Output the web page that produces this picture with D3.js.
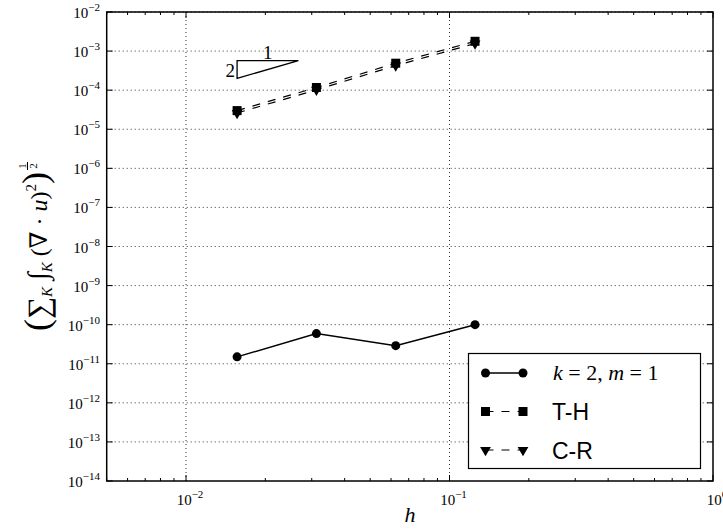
<!DOCTYPE html>
<html>
<head>
<meta charset="utf-8">
<script src="https://cdn.jsdelivr.net/npm/d3@7"></script>
<style>
  body { margin: 0; background: #fff; }
  svg { display: block; }
</style>
</head>
<body>
<div id="chart"></div>
<script>
// mesh size h and error values
var h_values = [0.015625, 0.03125, 0.0625, 0.125];
var err_km   = [1.5e-11, 5.9e-11, 2.9e-11, 1.0e-10];
var err_th   = [3.0e-5, 1.17e-4, 4.9e-4, 1.78e-3];
var err_cr   = [2.6e-5, 1.02e-4, 4.25e-4, 1.56e-3];
var series_names = ['k = 2, m = 1', 'T-H', 'C-R'];
var x_major = [0.01, 0.1, 1];
var y_major = d3.range(-14, -1);
// slope triangle corners (data coords)
var tri_x = [0.015625, 0.0267];
var tri_y = [5.7e-4, 2.0e-4];

var W = 723, H = 529;
var pl = 106.7, pr = 713, pt = 12, pb = 481;

var svg = d3.select('#chart').append('svg').attr('width', W).attr('height', H);

var x = d3.scaleLog().domain([0.005, 1]).range([pl, pr]);
var y = d3.scaleLog().domain([1e-14, 1e-2]).range([pb, pt]);

var serif = 'Liberation Serif, DejaVu Serif, serif';
var sans = 'Liberation Sans, Arial, sans-serif';
var dash = '8,8';

// grid
svg.append('g').selectAll('line')
    .data(x_major.slice(0, 2))
    .enter().append('line')
    .attr('x1', function(d){ return x(d); }).attr('x2', function(d){ return x(d); })
    .attr('y1', pt).attr('y2', pb)
    .attr('stroke', '#000').attr('stroke-width', 0.8).attr('stroke-dasharray', '1,3');

svg.append('g').selectAll('line')
    .data(y_major.slice(1, y_major.length))
    .enter().append('line')
    .attr('x1', pl).attr('x2', pr)
    .attr('y1', function(e){ return y(Math.pow(10, e)); })
    .attr('y2', function(e){ return y(Math.pow(10, e)); })
    .attr('stroke', '#000').attr('stroke-width', 0.8).attr('stroke-dasharray', '1,3');

// ticks (inward, both sides)
var x_minor = [];
[0.001, 0.01, 0.1].forEach(function(b){
    for (var i = 2; i <= 9; i++) {
        var v = b * i;
        if (v > 0.0049 && v < 1) x_minor.push(v);
    }
});

var ticks = svg.append('g').attr('stroke', '#000').attr('stroke-width', 1);
x_minor.forEach(function(v){
    ticks.append('line').attr('x1', x(v)).attr('x2', x(v)).attr('y1', pb).attr('y2', pb - 3);
    ticks.append('line').attr('x1', x(v)).attr('x2', x(v)).attr('y1', pt).attr('y2', pt + 3);
});
x_major.forEach(function(v){
    ticks.append('line').attr('x1', x(v)).attr('x2', x(v)).attr('y1', pb).attr('y2', pb - 6);
    ticks.append('line').attr('x1', x(v)).attr('x2', x(v)).attr('y1', pt).attr('y2', pt + 6);
});
y_major.forEach(function(e){
    var yy = y(Math.pow(10, e));
    ticks.append('line').attr('x1', pl).attr('x2', pl + 6).attr('y1', yy).attr('y2', yy);
    ticks.append('line').attr('x1', pr).attr('x2', pr - 6).attr('y1', yy).attr('y2', yy);
});

// tick labels
function power_label(g, px, py, exp, anchor)
{
    var t = g.append('text')
        .attr('x', px).attr('y', py)
        .attr('text-anchor', anchor)
        .attr('font-family', serif)
        .attr('font-size', '15px');
    t.append('tspan').text('10');
    t.append('tspan').attr('dy', -7).attr('font-size', '11px').text(exp < 0 ? '\u2212' + (-exp) : String(exp));
    return t;
}

var labels = svg.append('g');
y_major.forEach(function(e){
    power_label(labels, 100, y(Math.pow(10, e)) + 6, e, 'end');
});
x_major.forEach(function(v){
    var e = Math.round(Math.log10(v));
    power_label(labels, x(v) + 4, 505, e, 'middle');
});

// data lines
var line = d3.line()
    .x(function(d){ return x(d[0]); })
    .y(function(d){ return y(d[1]); });

function pairs(vals){ return h_values.map(function(hv, i){ return [hv, vals[i]]; }); }

svg.append('path').datum(pairs(err_th)).attr('d', line)
    .attr('fill', 'none').attr('stroke', '#000').attr('stroke-width', 1.2).attr('stroke-dasharray', dash);
svg.append('path').datum(pairs(err_cr)).attr('d', line)
    .attr('fill', 'none').attr('stroke', '#000').attr('stroke-width', 1.2).attr('stroke-dasharray', dash);
svg.append('path').datum(pairs(err_km)).attr('d', line)
    .attr('fill', 'none').attr('stroke', '#000').attr('stroke-width', 1.5);

var tri = d3.symbol().type(d3.symbolTriangle).size(50);

svg.append('g').selectAll('path')
    .data(pairs(err_cr)).enter().append('path')
    .attr('d', tri)
    .attr('transform', function(d){ return 'translate(' + x(d[0]) + ',' + y(d[1]) + ') rotate(180)'; })
    .attr('fill', '#000');

svg.append('g').selectAll('rect')
    .data(pairs(err_th)).enter().append('rect')
    .attr('x', function(d){ return x(d[0]) - 4.5; })
    .attr('y', function(d){ return y(d[1]) - 4.5; })
    .attr('width', 9).attr('height', 9)
    .attr('fill', '#000');

svg.append('g').selectAll('circle')
    .data(pairs(err_km)).enter().append('circle')
    .attr('cx', function(d){ return x(d[0]); })
    .attr('cy', function(d){ return y(d[1]); })
    .attr('r', 4.5)
    .attr('fill', '#000');

// slope triangle
svg.append('path')
    .attr('d', 'M' + x(tri_x[0]) + ',' + y(tri_y[0]) +
               'L' + x(tri_x[1]) + ',' + y(tri_y[0]) +
               'L' + x(tri_x[0]) + ',' + y(tri_y[1]) + 'Z')
    .attr('fill', 'none').attr('stroke', '#000').attr('stroke-width', 1.3);
svg.append('text').attr('x', x(tri_x[0]) - 2).attr('y', (y(tri_y[0]) + y(tri_y[1])) / 2 + 7)
    .attr('text-anchor', 'end').attr('font-family', serif).attr('font-size', '19px').text('2');
svg.append('text').attr('x', (x(tri_x[0]) + x(tri_x[1])) / 2).attr('y', y(tri_y[0]) - 2)
    .attr('text-anchor', 'middle').attr('font-family', serif).attr('font-size', '19px').text('1');

// frame
svg.append('rect').attr('x', pl).attr('y', pt)
    .attr('width', pr - pl).attr('height', pb - pt)
    .attr('fill', 'none').attr('stroke', '#000').attr('stroke-width', 1.5);

// legend
var leg = svg.append('g');
leg.append('rect').attr('x', 468.5).attr('y', 353.5).attr('width', 232).attr('height', 115)
    .attr('fill', '#fff').attr('stroke', '#000').attr('stroke-width', 1.2);

var rows = [373, 411.5, 450];
var lx1 = 485.5, lx2 = 523;

leg.append('line').attr('x1', lx1).attr('x2', lx2).attr('y1', rows[0]).attr('y2', rows[0])
    .attr('stroke', '#000').attr('stroke-width', 1.5);
[lx1, lx2].forEach(function(px){
    leg.append('circle').attr('cx', px).attr('cy', rows[0]).attr('r', 4.5).attr('fill', '#000');
});
[1, 2].forEach(function(r){
    leg.append('line').attr('x1', lx1).attr('x2', lx2).attr('y1', rows[r]).attr('y2', rows[r])
        .attr('stroke', '#000').attr('stroke-width', 1.2).attr('stroke-dasharray', dash);
});
[lx1, lx2].forEach(function(px){
    leg.append('rect').attr('x', px - 4.5).attr('y', rows[1] - 4.5).attr('width', 9).attr('height', 9).attr('fill', '#000');
    leg.append('path').attr('d', tri)
        .attr('transform', 'translate(' + px + ',' + rows[2] + ') rotate(180)').attr('fill', '#000');
});

var t0 = leg.append('text').attr('x', 553).attr('y', rows[0] + 7)
    .attr('font-family', serif).attr('font-size', '22px');
t0.append('tspan').attr('font-style', 'italic').text('k');
t0.append('tspan').text(' = 2, ');
t0.append('tspan').attr('font-style', 'italic').text('m');
t0.append('tspan').text(' = 1');

leg.append('text').attr('x', 552).attr('y', rows[1] + 8.5)
    .attr('font-family', sans).attr('font-size', '23px').text(series_names[1]);
leg.append('text').attr('x', 552).attr('y', rows[2] + 8.5)
    .attr('font-family', sans).attr('font-size', '23px').text(series_names[2]);

// axis labels
svg.append('text').attr('x', 410).attr('y', 522)
    .attr('text-anchor', 'middle').attr('font-family', serif).attr('font-style', 'italic')
    .attr('font-size', '22px').text('h');

var yl = svg.append('g');
var yt = yl.append('text').attr('x', 0).attr('y', 0)
    .attr('font-family', serif).attr('font-size', '24px');
yt.append('tspan').attr('font-size', '36px').attr('dy', 2).text('(');
yt.append('tspan').attr('font-size', '31px').attr('dy', 0).text('\u2211');
yt.append('tspan').attr('font-size', '15px').attr('font-style', 'italic').attr('dy', 3).text('K');
yt.append('tspan').attr('font-size', '28px').attr('font-style', 'italic').attr('dy', -5).text(' \u222B');
yt.append('tspan').attr('font-size', '15px').attr('font-style', 'italic').attr('dy', 5).text('K');
yt.append('tspan').attr('dy', -5).text(' (\u2207 \u00B7 ');
yt.append('tspan').attr('font-style', 'italic').text('u');
yt.append('tspan').text(')');
yt.append('tspan').attr('font-size', '15px').attr('dy', -11).text('2');
yt.append('tspan').attr('font-size', '36px').attr('dy', 11).text(')');
var len = yt.node().getComputedTextLength();
// stacked 1/2 exponent
var fx = len + 6;
yl.append('text').attr('x', fx).attr('y', -21).attr('text-anchor', 'middle')
    .attr('font-family', serif).attr('font-size', '11px').text('1');
yl.append('line').attr('x1', fx - 4).attr('x2', fx + 4).attr('y1', -19.5).attr('y2', -19.5)
    .attr('stroke', '#000').attr('stroke-width', 1);
yl.append('text').attr('x', fx).attr('y', -10).attr('text-anchor', 'middle')
    .attr('font-family', serif).attr('font-size', '11px').text('2');
var total = len + 11;
yl.attr('transform', 'translate(47,' + (246 + total / 2) + ') rotate(-90)');
</script>
</body>
</html>
